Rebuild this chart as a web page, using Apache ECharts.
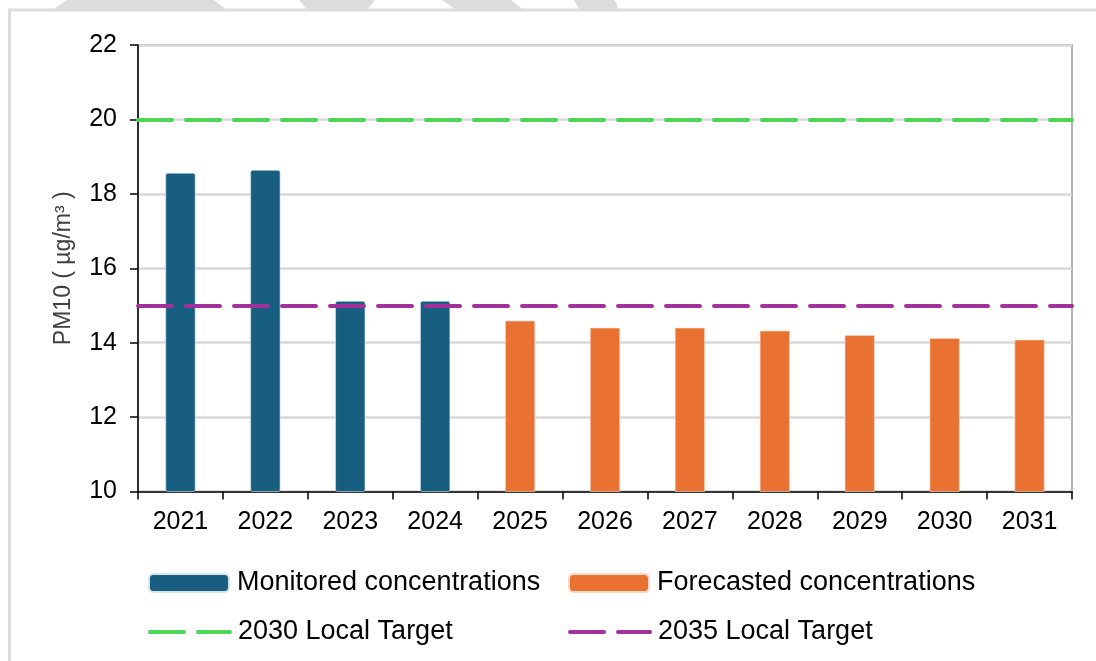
<!DOCTYPE html>
<html>
<head>
<meta charset="utf-8">
<script src="https://cdn.jsdelivr.net/npm/echarts@6/dist/echarts.min.js"></script>
<style>
  html, body { margin: 0; padding: 0; background: #fff; }
  #chart { width: 1096px; height: 661px; }
</style>
</head>
<body>
<div id="chart"></div>
<script>
// Annual mean PM10 concentrations, monitored and forecast
const years = ['2021', '2022', '2023', '2024', '2025', '2026', '2027', '2028', '2029', '2030', '2031'];
const monitored = [18.56, 18.64, 15.12, 15.12, '-', '-', '-', '-', '-', '-', '-'];
const forecasted = ['-', '-', '-', '-', 14.59, 14.40, 14.40, 14.32, 14.20, 14.12, 14.08];
const target2030 = 20;
const target2035 = 15;
const yTicks = { min: 10, max: 22, step: 2 };

const FONT = '"Liberation Sans", Arial, sans-serif';
const BLUE = '#175e80';
const ORANGE = '#e97232';
const GREEN = '#4cd75a';
const PURPLE = '#a2309b';
const DASH = [34, 14];

const chart = echarts.init(document.getElementById('chart'), null, { renderer: 'canvas' });

function targetSeries(name, value, color) {
  return {
    name: name,
    type: 'line',
    data: [],
    symbol: 'none',
    z: 5,
    lineStyle: { color: color, width: 4, type: DASH, cap: 'round' },
    itemStyle: { color: color },
    markLine: {
      silent: true,
      symbol: 'none',
      label: { show: false },
      lineStyle: { color: color, width: 4, type: DASH, cap: 'round' },
      data: [{ yAxis: value }]
    }
  };
}

function legendAt(name, left, top, isLine) {
  const lg = {
    data: [name],
    left: left,
    top: top,
    padding: 0,
    orient: 'horizontal',
    itemWidth: 80,
    itemHeight: 18,
    selectedMode: false,
    textStyle: { fontFamily: FONT, fontSize: 27, color: '#000', lineHeight: 28, padding: [0, 0, 0, 3] }
  };
  if (isLine) {
    lg.itemStyle = { opacity: 0 };
    lg.lineStyle = { width: 4, type: DASH, cap: 'round' };
  }
  return lg;
}

const option = {
  backgroundColor: '#fff',
  animation: false,
  graphic: [
    // frame around the figure
    { type: 'rect', shape: { x: 9.5, y: 10, width: 1100, height: 700 }, style: { fill: 'none', stroke: '#dcdcdc', lineWidth: 3 }, silent: true },
    // light grey bands along the top edge
    { type: 'polygon', shape: { points: [[51, 11], [67, 0], [214, 0], [228, 11]] }, style: { fill: '#dcdcdc' }, silent: true },
    { type: 'polygon', shape: { points: [[299, 0], [308, 11], [366, 11], [375, 0]] }, style: { fill: '#dcdcdc' }, silent: true },
    { type: 'polygon', shape: { points: [[442, 0], [458, 11], [525, 11], [511, 0]] }, style: { fill: '#dcdcdc' }, silent: true },
    { type: 'polygon', shape: { points: [[574, 0], [580, 11], [618, 11], [617, 4], [614, 0]] }, style: { fill: '#dcdcdc' }, silent: true }
  ],
  grid: {
    left: 138, right: 24, top: 45, bottom: 169.5,
    show: true, borderColor: '#9a9a9a', borderWidth: 1.5, backgroundColor: 'transparent'
  },
  legend: [
    legendAt('Monitored concentrations', 148, 569, false),
    legendAt('Forecasted concentrations', 568, 569, false),
    legendAt('2030 Local Target', 148, 618, true),
    legendAt('2035 Local Target', 568, 618, true)
  ],
  xAxis: {
    type: 'category',
    data: years,
    axisLine: { lineStyle: { color: '#000', width: 1.5 } },
    axisTick: { show: true, length: 8, lineStyle: { color: '#000', width: 1.5 } },
    axisLabel: { fontFamily: FONT, fontSize: 25, color: '#000', margin: 18 },
    splitLine: { show: false }
  },
  yAxis: {
    type: 'value',
    min: yTicks.min,
    max: yTicks.max,
    interval: yTicks.step,
    name: 'PM10 ( µg/m³ )',
    nameLocation: 'middle',
    nameRotate: 90,
    nameGap: 63,
    nameTextStyle: { fontFamily: FONT, fontSize: 23, color: '#404040' },
    axisLine: { show: true, lineStyle: { color: '#000', width: 1.5 } },
    axisTick: { show: true, length: 8, lineStyle: { color: '#000', width: 1.5 } },
    axisLabel: { fontFamily: FONT, fontSize: 25, color: '#000', margin: 21 },
    splitLine: { show: true, lineStyle: { color: '#d9d9d9', width: 2.5 } }
  },
  series: [
    {
      name: 'Monitored concentrations',
      type: 'bar',
      data: monitored,
      barWidth: 30,
      barGap: '-100%',
      z: 2,
      itemStyle: { color: BLUE, borderColor: '#d6e4ec', borderWidth: 0.6, borderRadius: 2 }
    },
    {
      name: 'Forecasted concentrations',
      type: 'bar',
      data: forecasted,
      barWidth: 30,
      barGap: '-100%',
      z: 2,
      itemStyle: { color: ORANGE, borderColor: '#fbd9c6', borderWidth: 0.6 }
    },
    targetSeries('2030 Local Target', target2030, GREEN),
    targetSeries('2035 Local Target', target2035, PURPLE)
  ]
};

chart.setOption(option);
</script>
</body>
</html>
